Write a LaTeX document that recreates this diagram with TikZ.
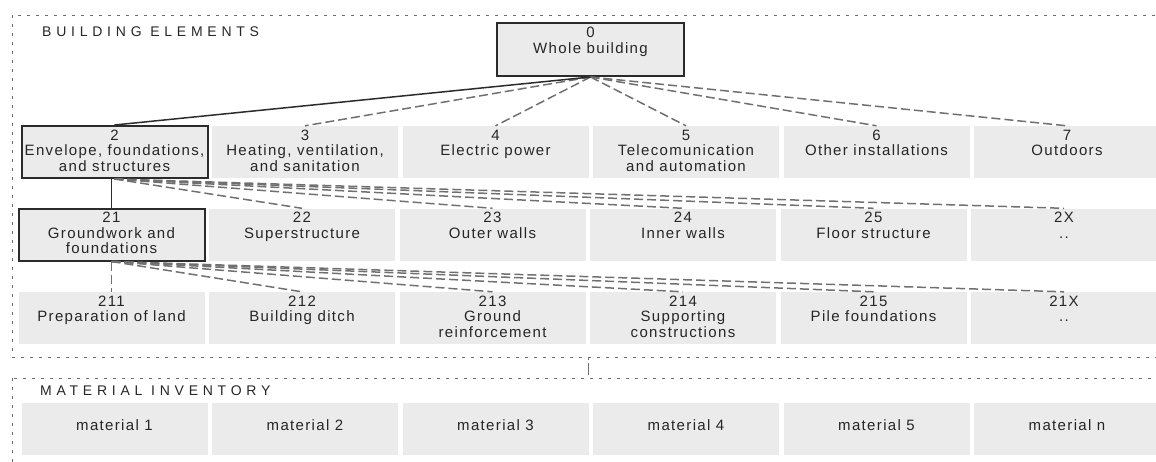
\documentclass[tikz,border=0pt]{standalone}
\usepackage{fontspec}
\setmainfont[LetterSpace=9]{Liberation Sans}
\newfontfamily\titlefont[LetterSpace=34]{Liberation Sans}
\definecolor{boxgray}{HTML}{EBEBEB}
\definecolor{framegray}{HTML}{6E6E6E}
\definecolor{dashgray}{HTML}{707070}
\definecolor{darkline}{HTML}{2B2B2B}
\definecolor{textcol}{HTML}{262626}
\newcommand\elemtext[1]{\begin{minipage}[c][44pt][t]{186pt}\centering #1\end{minipage}}
\begin{document}
\begin{tikzpicture}[x=1pt,y=-1pt,
  elem/.style={rectangle, fill=boxgray, minimum width=186pt, minimum height=52pt,
    inner sep=0pt, text=textcol, font=\fontsize{15}{15.5}\selectfont},
  selbox/.style={elem, draw=darkline, line width=2pt},
  matbox/.style={elem, text depth=8pt},
  framebox/.style={draw=framegray, line width=1pt, dash pattern=on 3pt off 6pt},
  solidlink/.style={draw=darkline, line width=1.5pt},
  dashlink/.style={draw=dashgray, line width=1.5pt, dash pattern=on 9pt off 4pt},
  sectitle/.style={anchor=west, inner sep=0pt, text=textcol, font=\titlefont\fontsize{14}{15}\selectfont}
]
\useasboundingbox (0,0) rectangle (1156,461);
\begin{scope}
\clip (0,0) rectangle (1156,461);
% frames
\draw[framebox] (12,15) rectangle (1200,357);
\draw[framebox] (12,378) rectangle (1200,520);
\coordinate (frA) at (588,357);
\coordinate (frB) at (588,377);
\draw[framegray, line width=1pt, dash pattern=on 3pt off 3pt on 12pt off 6pt] (frA) -- (frB);

\node[sectitle] (tbe) at (42,32) {BUILDING ELEMENTS};
\node[sectitle] (tmi) at (40,391) {MATERIAL INVENTORY};

% level 0
\node[selbox, minimum width=187pt, minimum height=53pt] (b0) at (590.5,49.5) {\elemtext{0\\Whole building}};

% level 1
\node[selbox] (b2) at (114.5,152) {\elemtext{2\\Envelope, foundations,\\and structures}};
\node[elem] (b3) at (305,152) {\elemtext{3\\Heating, ventilation,\\and sanitation}};
\node[elem] (b4) at (495.5,152) {\elemtext{4\\Electric power}};
\node[elem] (b5) at (686,152) {\elemtext{5\\Telecomunication\\and automation}};
\node[elem] (b6) at (876.5,152) {\elemtext{6\\Other installations}};
\node[elem] (b7) at (1067,152) {\elemtext{7\\Outdoors}};

% level 2
\node[selbox] (b21) at (111.5,234.5) {\elemtext{21\\Groundwork and\\foundations}};
\node[elem] (b22) at (302,234.5) {\elemtext{22\\Superstructure}};
\node[elem] (b23) at (492.5,234.5) {\elemtext{23\\Outer walls}};
\node[elem] (b24) at (683,234.5) {\elemtext{24\\Inner walls}};
\node[elem] (b25) at (873.5,234.5) {\elemtext{25\\Floor structure}};
\node[elem] (b2X) at (1064,234.5) {\elemtext{2X\\..}};

% level 3
\node[elem] (b211) at (111.5,318) {\elemtext{211\\Preparation of land}};
\node[elem] (b212) at (302,318) {\elemtext{212\\Building ditch}};
\node[elem] (b213) at (492.5,318) {\elemtext{213\\Ground\\reinforcement}};
\node[elem] (b214) at (683,318) {\elemtext{214\\Supporting\\constructions}};
\node[elem] (b215) at (873.5,318) {\elemtext{215\\Pile foundations}};
\node[elem] (b21X) at (1064,318) {\elemtext{21X\\..}};

% materials
\node[matbox] (m1) at (114.5,429) {material 1};
\node[matbox] (m2) at (305,429) {material 2};
\node[matbox] (m3) at (495.5,429) {material 3};
\node[matbox] (m4) at (686,429) {material 4};
\node[matbox] (m5) at (876.5,429) {material 5};
\node[matbox] (mn) at (1067,429) {material n};

% connectors level 0 -> 1
\foreach \t in {b3,b4,b5,b6,b7} \draw[dashlink] (b0.south) -- (\t.north);
\draw[solidlink] (b0.south) -- (b2.north);

% connectors level 1 -> 2
\foreach \t in {b22,b23,b24,b25,b2X} \draw[dashlink] (b2.south) -- (\t.north);
\draw[solidlink] (b21.north |- b2.south) -- (b21.north);

% connectors level 2 -> 3
\foreach \t in {b212,b213,b214,b215,b21X} \draw[dashlink] (b21.south) -- (\t.north);
\draw[dashlink] (b21.south) -- (b211.north);
\end{scope}
\end{tikzpicture}
\end{document}
